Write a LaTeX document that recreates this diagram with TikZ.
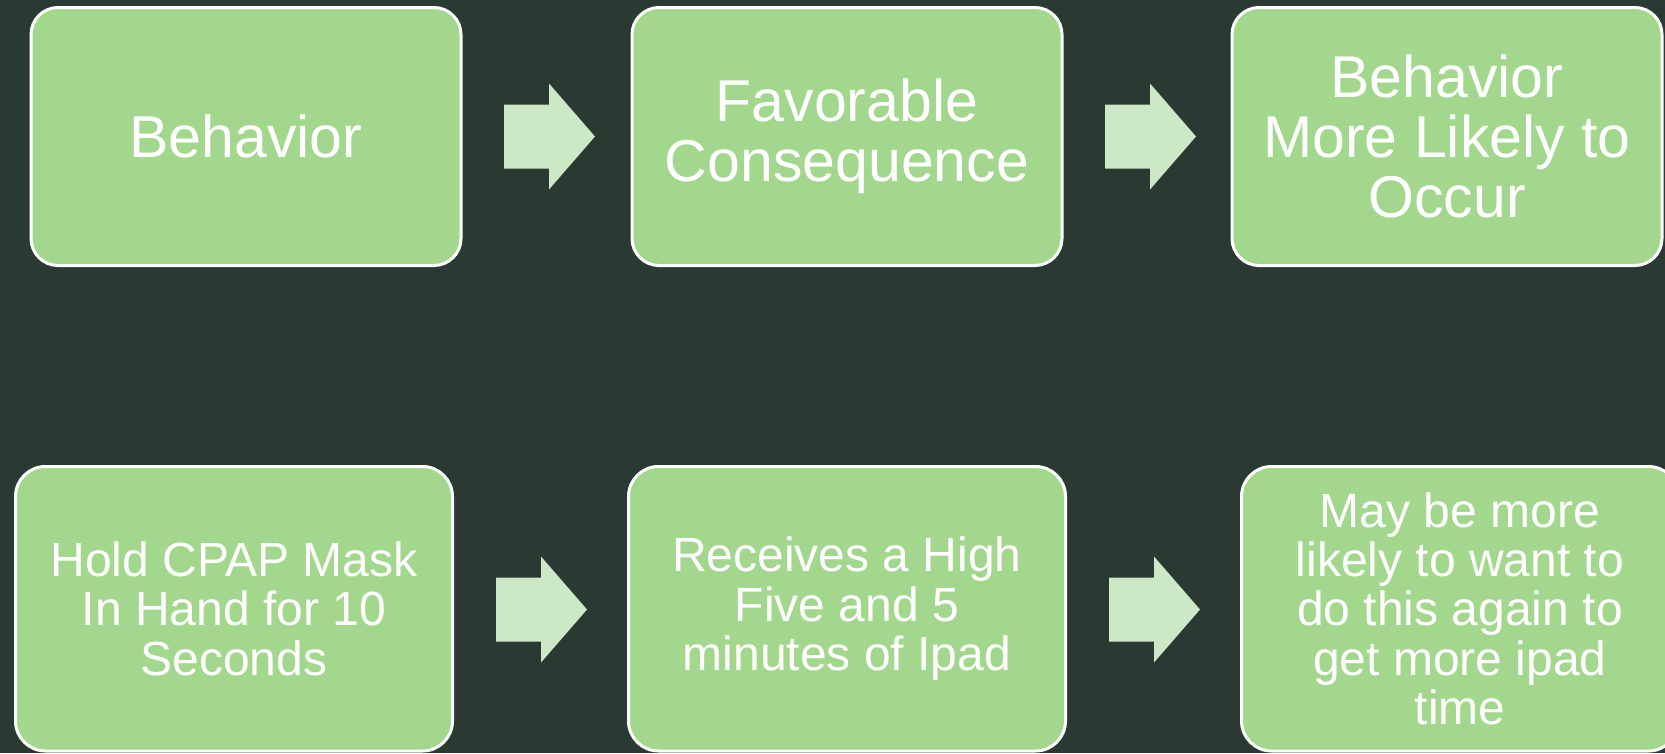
\documentclass[tikz,border=0pt]{standalone}
\usepackage{fontspec}
\setmainfont{Liberation Sans}
\definecolor{bg}{RGB}{42,57,49}
\definecolor{boxgreen}{RGB}{163,215,141}
\definecolor{arrowgreen}{RGB}{205,232,198}
\begin{document}
\begin{tikzpicture}[x=1pt,y=-1pt,
  box/.style={draw=white, line width=3pt, fill=boxgreen, text=white, align=center, inner sep=0pt},
  topbox/.style={box, rounded corners=27pt, minimum width=430pt, minimum height=258pt, font=\fontsize{59}{60}\selectfont},
  botbox/.style={box, rounded corners=30pt, minimum width=437pt, minimum height=284.5pt, font=\fontsize{48}{49.4}\selectfont},
  barrow/.pic={\fill[arrowgreen] (0,-32) -- (45,-32) -- (45,-53) -- (91,0) -- (45,53) -- (45,32) -- (0,32) -- cycle;}
]
\fill[bg] (0,0) rectangle (1665,753);
\useasboundingbox (0,0) rectangle (1665,753);
\node[topbox] (b1) at (246,136.5) {Behavior};
\node[topbox] (b2) at (847,136.5) {Favorable\\Consequence};
\node[topbox] (b3) at (1447,136.5) {Behavior\\More Likely to\\Occur};
\node[botbox] (c1) at (234,608.75) {Hold CPAP Mask\\In Hand for 10\\Seconds};
\node[botbox] (c2) at (847,608.75) {Receives a High\\Five and 5\\minutes of Ipad};
\node[botbox] (c3) at (1460,608.75) {May be more\\likely to want to\\do this again to\\get more ipad\\time};
\pic at (504,136.5) {barrow};
\pic at (1105,136.5) {barrow};
\pic at (496,609.5) {barrow};
\pic at (1109,609.5) {barrow};
\end{tikzpicture}
\end{document}
